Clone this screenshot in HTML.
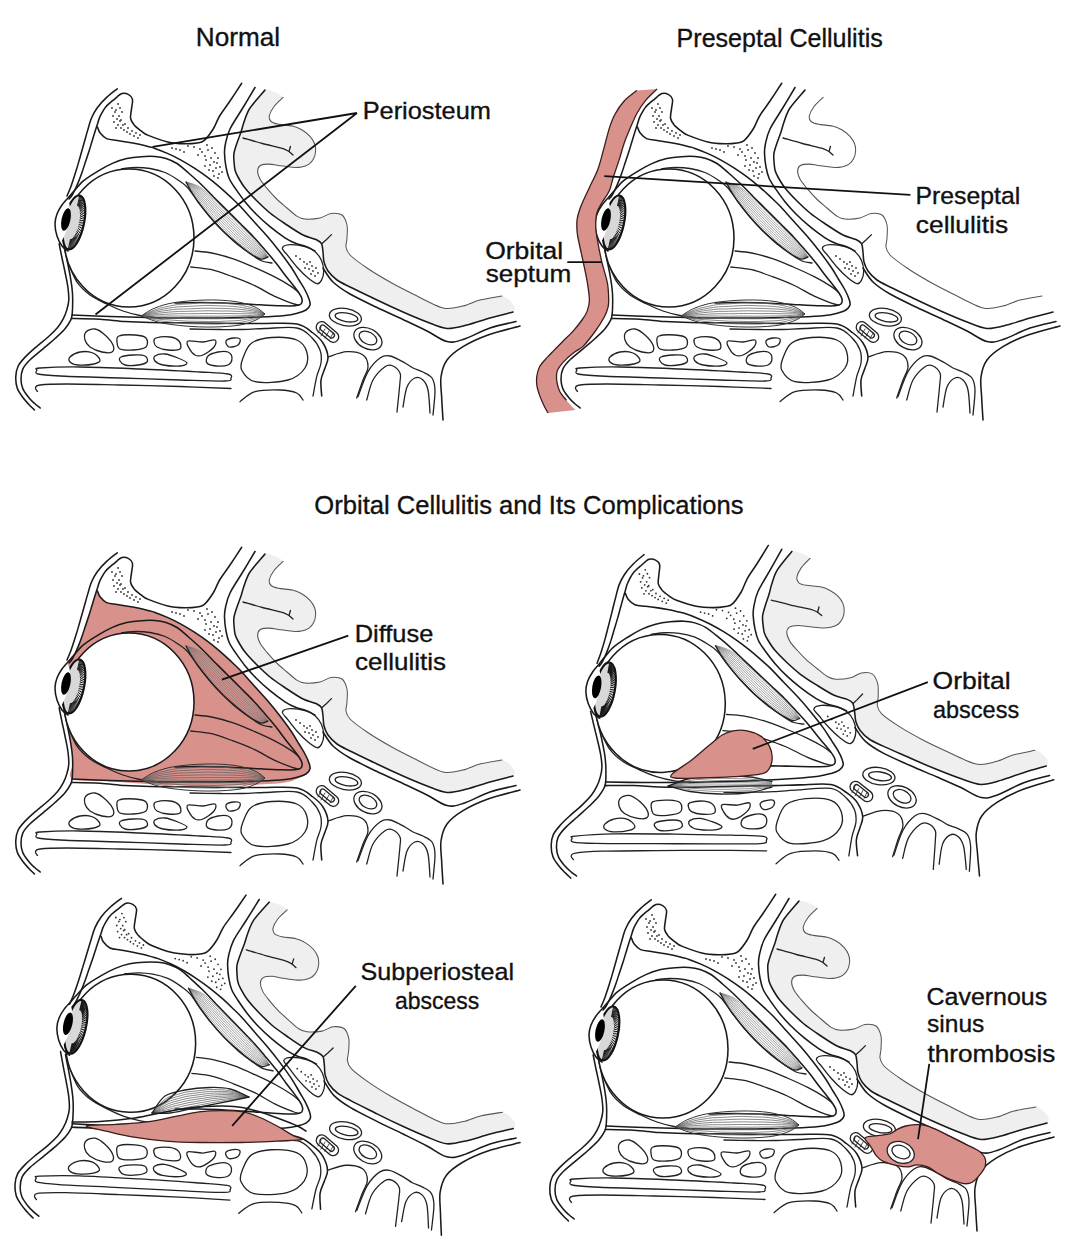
<!DOCTYPE html>
<html><head><meta charset="utf-8"><title>Orbital Cellulitis</title>
<style>
html,body{margin:0;padding:0;background:#fff;}
body{width:1080px;height:1255px;overflow:hidden;position:relative;}
svg{position:absolute;left:0;top:0;}
.k{fill:none;stroke:#1a1a1a;stroke-width:1.55;stroke-linecap:round;stroke-linejoin:round;}
.kt{fill:none;stroke:#222;stroke-width:1.3;stroke-linecap:round;stroke-linejoin:round;}
.g{fill:none;stroke:#555;stroke-width:1.05;stroke-linecap:round;}
.m{fill:none;stroke:#555;stroke-width:0.7;}
.lbl{font-family:"Liberation Sans",sans-serif;fill:#111;stroke:#111;stroke-width:0.35;}
.ptr{fill:none;stroke:#111;stroke-width:1.8;}
</style></head>
<body>
<svg width="1080" height="1255" viewBox="0 0 1080 1255">
<defs>
<g id="base">
<g id="lidout"><path class="k" d="M117.2,88.8C115.4,90.2 109.9,94.2 106.6,97.4C103.2,100.6 99.6,104.5 97.1,108.0C94.5,111.5 92.9,114.7 91.3,118.5C89.7,122.3 88.8,126.6 87.5,130.9C86.2,135.2 85.0,139.8 83.7,144.3C82.4,148.8 81.2,153.2 79.9,157.7C78.6,162.2 77.4,166.5 76.0,171.1C74.6,175.7 72.8,181.2 71.3,185.4C69.8,189.6 67.7,194.2 67.0,196.0" />
<path class="k" d="M59.0,243.0C59.5,245.5 61.0,253.2 62.0,258.0C63.0,262.8 64.0,267.0 65.0,272.0C66.0,277.0 67.4,283.3 68.0,288.0C68.6,292.7 69.0,296.4 68.8,300.0C68.6,303.6 67.9,306.4 66.9,309.6C66.0,312.8 64.7,316.1 63.1,319.1C61.5,322.1 60.0,324.7 57.4,327.7C54.8,330.7 51.3,334.1 47.8,337.3C44.3,340.5 40.0,343.6 36.3,346.8C32.6,350.0 28.8,353.2 25.8,356.4C22.8,359.6 19.9,362.6 18.2,366.0C16.5,369.4 16.0,372.8 15.8,376.5C15.6,380.2 16.0,384.5 17.2,388.0C18.4,391.5 21.0,394.8 22.9,397.5C24.8,400.2 26.8,402.1 28.7,404.2C30.6,406.3 33.4,408.9 34.4,409.9" /></g>
<g id="gfill"><path d="M265.0,90.0C260.6,91.4 252.8,103.7 250.0,108.0C247.2,112.3 245.2,118.8 244.0,122.0C242.8,125.2 241.9,129.2 241.0,132.0C240.1,134.8 237.9,140.2 237.0,143.0C236.1,145.8 234.4,150.7 234.0,153.0C233.6,155.3 233.8,157.7 233.9,160.0C234.0,162.3 234.5,167.7 235.0,170.0C235.5,172.3 236.7,174.6 238.0,177.0C239.3,179.4 242.6,184.9 245.0,188.0C247.4,191.1 252.7,196.7 256.0,200.0C259.3,203.3 265.9,209.7 270.0,213.0C274.1,216.3 282.6,222.1 287.0,225.0C291.4,227.9 299.1,233.1 303.0,235.0C306.9,236.9 313.5,238.4 316.0,239.5C318.5,240.6 320.6,241.9 321.5,243.6C322.4,245.3 322.7,249.5 323.0,252.0C323.3,254.5 323.3,259.5 324.0,262.0C324.7,264.5 326.3,268.6 328.0,271.0C329.7,273.4 334.1,277.9 337.0,280.0C339.9,282.1 344.7,284.3 350.0,287.0C355.3,289.7 369.9,296.7 377.0,300.0C384.1,303.3 396.3,309.1 403.0,312.0C409.7,314.9 421.1,319.8 427.0,322.0C432.9,324.2 441.7,328.1 447.0,328.5C452.3,328.9 461.3,326.4 467.0,325.0C472.7,323.6 483.9,319.7 490.0,318.0C496.1,316.3 509.9,313.9 513.0,312.0C516.1,310.1 514.5,306.1 513.0,304.0C511.5,301.9 506.4,296.5 502.0,296.0C497.6,295.5 485.2,298.7 480.0,300.0C474.8,301.3 467.9,304.9 463.0,306.0C458.1,307.1 449.7,309.6 443.0,308.0C436.3,306.4 420.1,297.5 413.0,294.0C405.9,290.5 396.1,285.5 390.0,282.0C383.9,278.5 372.3,271.6 367.0,268.0C361.7,264.4 352.8,257.8 350.0,255.0C347.2,252.2 346.4,249.3 346.0,247.0C345.6,244.7 346.9,240.9 347.0,238.0C347.1,235.1 347.7,228.1 347.0,225.0C346.3,221.9 344.1,216.5 342.0,215.0C339.9,213.5 333.9,213.1 331.0,213.5C328.1,213.9 323.5,217.3 320.0,218.0C316.5,218.7 308.1,219.3 305.0,219.0C301.9,218.7 299.2,217.6 296.8,216.1C294.4,214.6 289.7,210.3 287.0,208.0C284.3,205.7 279.4,201.6 276.7,199.0C274.0,196.4 269.2,191.0 267.0,188.4C264.8,185.8 261.7,182.1 260.4,179.8C259.1,177.5 257.6,173.1 257.6,171.2C257.6,169.3 258.8,166.4 260.4,165.5C262.0,164.6 266.9,164.1 269.3,164.1C271.7,164.1 275.4,165.1 278.5,165.5C281.6,165.9 289.3,167.1 292.4,167.3C295.5,167.5 299.5,167.3 301.7,166.9C303.9,166.5 307.5,165.2 309.1,164.1C310.7,163.0 312.8,160.2 313.7,158.5C314.6,156.8 315.5,153.1 315.6,151.1C315.7,149.1 315.3,145.7 314.6,143.7C313.9,141.7 311.7,138.2 310.0,136.3C308.3,134.4 304.0,131.2 301.7,129.8C299.4,128.4 295.5,126.8 292.4,126.1C289.3,125.4 281.3,124.9 278.5,124.3C275.7,123.7 272.3,122.6 271.1,121.5C269.9,120.4 268.9,117.9 269.3,115.9C269.7,113.9 272.1,109.2 273.9,106.7C275.7,104.2 284.3,99.6 283.1,97.4C281.9,95.2 269.4,88.6 265.0,90.0Z" fill="#efefef" stroke="none"/></g>
<g id="frame"><path class="g" d="M502.0,296.0C498.7,296.6 485.9,298.5 480.0,300.0C474.1,301.5 468.6,304.8 463.0,306.0C457.4,307.2 450.5,309.8 443.0,308.0C435.5,306.2 420.9,297.9 413.0,294.0C405.1,290.1 396.9,285.9 390.0,282.0C383.1,278.1 373.0,272.1 367.0,268.0C361.0,263.9 353.1,258.1 350.0,255.0C346.9,251.8 346.4,249.6 346.0,247.0C345.6,244.4 346.9,241.3 347.0,238.0C347.1,234.7 347.8,228.4 347.0,225.0C346.2,221.6 344.4,216.7 342.0,215.0C339.6,213.3 334.3,213.1 331.0,213.5C327.7,213.9 323.9,217.2 320.0,218.0C316.1,218.8 308.5,219.3 305.0,219.0C301.5,218.7 299.5,217.8 296.8,216.1C294.1,214.4 290.0,210.6 287.0,208.0C284.0,205.4 279.7,201.9 276.7,199.0C273.7,196.1 269.4,191.3 267.0,188.4C264.6,185.5 261.8,182.4 260.4,179.8C259.0,177.2 257.6,173.3 257.6,171.2C257.6,169.1 258.6,166.6 260.4,165.5C262.2,164.4 266.6,164.1 269.3,164.1C272.0,164.1 275.0,165.0 278.5,165.5C282.0,166.0 288.9,167.1 292.4,167.3C295.9,167.5 299.2,167.4 301.7,166.9C304.2,166.4 307.3,165.4 309.1,164.1C310.9,162.8 312.7,160.4 313.7,158.5C314.7,156.6 315.5,153.3 315.6,151.1C315.7,148.9 315.4,145.9 314.6,143.7C313.8,141.5 311.9,138.4 310.0,136.3C308.1,134.2 304.3,131.3 301.7,129.8C299.1,128.3 295.9,126.9 292.4,126.1C288.9,125.3 281.7,125.0 278.5,124.3C275.3,123.6 272.5,122.8 271.1,121.5C269.7,120.2 268.9,118.1 269.3,115.9C269.7,113.7 271.8,109.5 273.9,106.7C276.0,103.9 281.7,98.8 283.1,97.4" />
<path class="k" d="M265.0,90.0C262.8,92.7 253.2,103.2 250.0,108.0C246.8,112.8 245.3,118.4 244.0,122.0C242.7,125.6 242.1,128.8 241.0,132.0C239.9,135.2 238.1,139.8 237.0,143.0C235.9,146.2 234.5,150.4 234.0,153.0C233.5,155.6 233.8,157.4 233.9,160.0C234.1,162.6 234.4,167.4 235.0,170.0C235.6,172.6 236.5,174.3 238.0,177.0C239.5,179.7 242.3,184.6 245.0,188.0C247.7,191.4 252.2,196.2 256.0,200.0C259.8,203.8 265.4,209.2 270.0,213.0C274.6,216.8 282.1,221.7 287.0,225.0C291.9,228.3 298.6,232.8 303.0,235.0C307.4,237.2 313.2,238.2 316.0,239.5C318.8,240.8 320.4,241.7 321.5,243.6C322.6,245.5 322.6,249.2 323.0,252.0C323.4,254.8 323.2,259.1 324.0,262.0C324.8,264.9 326.1,268.3 328.0,271.0C329.9,273.7 333.7,277.6 337.0,280.0C340.3,282.4 344.0,284.0 350.0,287.0C356.0,290.0 369.1,296.2 377.0,300.0C384.9,303.8 395.5,308.7 403.0,312.0C410.5,315.3 420.4,319.5 427.0,322.0C433.6,324.5 441.0,328.1 447.0,328.5C453.0,328.9 460.6,326.6 467.0,325.0C473.4,323.4 483.1,319.9 490.0,318.0C496.9,316.1 509.6,312.9 513.0,312.0" />
<path class="kt" d="M243.0,138.0C246.2,138.9 256.0,141.8 262.4,143.5C268.8,145.2 277.1,146.9 281.5,148.2C285.9,149.5 287.8,150.9 289.0,151.5" />
<path class="kt" d="M290.5,146.3L289.0,151.5L293.0,155.0" />
<path class="kt" d="M331.5,234.6L326.0,240.0L322.0,243.6" />
<path class="k" d="M255.0,87.5C252.8,91.2 245.7,103.1 241.5,110.0C237.3,116.9 232.7,123.4 230.0,129.0C227.3,134.6 226.4,139.5 225.5,143.5C224.6,147.5 224.4,149.1 224.5,153.0C224.6,156.9 225.2,162.8 226.0,167.0C226.8,171.2 227.5,174.5 229.0,178.0C230.5,181.5 232.3,184.1 235.0,188.0C237.7,191.9 241.5,197.4 245.0,201.7C248.5,206.0 251.8,209.8 256.0,214.0C260.2,218.2 265.2,222.7 270.0,226.7C274.8,230.7 280.7,235.0 285.0,237.8C289.3,240.6 292.5,242.1 296.0,243.5C299.5,244.9 302.8,245.2 306.0,246.5C309.2,247.8 313.5,250.2 315.0,251.0" />
<path class="kt" d="M282.4,248.0C282.8,246.2 286.3,244.9 290.2,244.7C294.1,244.5 301.7,245.8 305.8,246.9C309.9,248.0 312.2,249.2 314.8,251.4C317.4,253.6 319.9,257.0 321.4,260.3C322.9,263.6 323.7,268.0 323.7,271.4C323.7,274.8 322.5,278.3 321.4,280.4C320.3,282.4 319.2,284.1 317.0,283.7C314.8,283.3 311.5,280.9 308.1,278.1C304.8,275.3 300.2,270.7 296.9,267.0C293.5,263.3 290.4,259.0 288.0,255.8C285.6,252.6 282.0,249.8 282.4,248.0Z" />
<g fill="#333"><circle cx="296" cy="256" r="0.9"/><circle cx="300" cy="259" r="0.9"/><circle cx="304" cy="262" r="0.9"/><circle cx="307" cy="264" r="0.9"/><circle cx="310" cy="262" r="0.9"/><circle cx="312" cy="266" r="0.9"/><circle cx="309" cy="269" r="0.9"/><circle cx="313" cy="271" r="0.9"/><circle cx="316" cy="268" r="0.9"/><circle cx="311" cy="274" r="0.9"/><circle cx="315" cy="276" r="0.9"/><circle cx="305" cy="268" r="0.9"/><circle cx="318" cy="273" r="0.9"/></g>
<path class="k" d="M323.0,268.0C324.7,270.3 328.5,277.7 333.0,282.0C337.5,286.3 342.7,289.8 350.0,294.0C357.3,298.2 368.2,303.2 377.0,307.5C385.8,311.8 394.7,315.6 403.0,319.5C411.3,323.4 419.7,327.3 427.0,331.0C434.3,334.7 441.0,340.1 447.0,341.5C453.0,342.9 455.8,341.8 463.0,339.5C470.2,337.2 481.2,331.0 490.0,328.0C498.8,325.0 511.7,322.6 516.0,321.5" />
<path class="k" d="M520.0,326.0C514.7,327.5 497.5,331.6 488.0,335.0C478.5,338.4 469.8,342.5 463.0,346.7C456.2,350.9 450.7,354.9 447.0,360.0C443.3,365.1 441.9,370.7 441.0,377.0C440.1,383.3 441.4,390.8 441.7,398.0C442.0,405.2 442.8,416.3 443.0,420.0" />
<path class="k" d="M69.0,199.0C69.5,198.3 70.9,197.3 72.2,195.0C73.5,192.7 75.4,189.1 77.0,185.4C78.6,181.7 80.4,177.0 81.8,173.0C83.2,169.0 84.3,165.3 85.6,161.5C86.9,157.7 88.3,153.5 89.4,150.0C90.5,146.5 91.3,143.7 92.3,140.5C93.3,137.3 94.3,133.8 95.2,131.0C96.1,128.2 96.7,126.4 97.5,124.0C98.3,121.6 98.6,119.4 100.0,116.6C101.4,113.8 103.3,109.9 105.7,107.0C108.1,104.1 111.6,101.5 114.3,99.3C117.0,97.1 119.6,94.4 122.0,93.6C124.4,92.8 126.8,93.6 128.6,94.6C130.3,95.5 132.0,96.9 132.5,99.3C133.0,101.7 131.8,105.7 131.5,108.9C131.2,112.1 130.1,115.8 130.6,118.5C131.1,121.2 132.7,123.1 134.4,125.2C136.2,127.3 138.8,129.2 141.1,130.9C143.4,132.6 143.9,133.6 148.3,135.4C152.8,137.2 161.7,140.5 167.8,141.9C173.9,143.3 180.1,143.6 185.0,143.8C189.9,144.0 193.8,143.5 197.0,143.0C200.2,142.5 201.4,142.9 204.1,140.6C206.8,138.3 210.6,133.1 213.2,129.0C215.8,124.9 216.8,120.7 219.6,116.0C222.4,111.3 226.3,106.5 230.0,101.0C233.7,95.5 239.8,86.2 241.7,83.3" />
<g fill="#333"><circle cx="112" cy="108" r="0.9"/><circle cx="115" cy="112" r="0.9"/><circle cx="113" cy="116" r="0.9"/><circle cx="117" cy="119" r="0.9"/><circle cx="114" cy="122" r="0.9"/><circle cx="118" cy="125" r="0.9"/><circle cx="121" cy="128" r="0.9"/><circle cx="124" cy="130" r="0.9"/><circle cx="127" cy="132" r="0.9"/><circle cx="116" cy="128" r="0.9"/><circle cx="120" cy="121" r="0.9"/><circle cx="123" cy="125" r="0.9"/><circle cx="130" cy="134" r="0.9"/><circle cx="134" cy="136" r="0.9"/><circle cx="138" cy="138" r="0.9"/><circle cx="202" cy="152" r="0.9"/><circle cx="205" cy="156" r="0.9"/><circle cx="208" cy="150" r="0.9"/><circle cx="211" cy="158" r="0.9"/><circle cx="214" cy="162" r="0.9"/><circle cx="210" cy="165" r="0.9"/><circle cx="216" cy="168" r="0.9"/><circle cx="213" cy="171" r="0.9"/><circle cx="219" cy="174" r="0.9"/><circle cx="206" cy="160" r="0.9"/><circle cx="200" cy="149" r="0.9"/><circle cx="194" cy="147" r="0.9"/><circle cx="188" cy="146" r="0.9"/><circle cx="207" cy="145" r="0.9"/><circle cx="212" cy="148" r="0.9"/><circle cx="215" cy="153" r="0.9"/><circle cx="218" cy="158" r="0.9"/><circle cx="217" cy="163" r="0.9"/><circle cx="220" cy="167" r="0.9"/><circle cx="222" cy="172" r="0.9"/><circle cx="218" cy="178" r="0.9"/><circle cx="214" cy="176" r="0.9"/><circle cx="209" cy="170" r="0.9"/><circle cx="205" cy="166" r="0.9"/><circle cx="180" cy="150" r="0.9"/><circle cx="176" cy="149" r="0.9"/><circle cx="172" cy="148" r="0.9"/><circle cx="184" cy="152" r="0.9"/><circle cx="198" cy="155" r="0.9"/><circle cx="118" cy="104" r="0.9"/><circle cx="120" cy="108" r="0.9"/><circle cx="116" cy="110" r="0.9"/><circle cx="122" cy="112" r="0.9"/><circle cx="119" cy="116" r="0.9"/><circle cx="121" cy="120" r="0.9"/><circle cx="125" cy="124" r="0.9"/><circle cx="128" cy="128" r="0.9"/><circle cx="132" cy="131" r="0.9"/><circle cx="136" cy="133" r="0.9"/><circle cx="140" cy="135" r="0.9"/></g>
<path class="k" d="M97.5,127.0C97.9,128.0 98.5,130.9 100.0,132.8C101.5,134.7 103.7,137.3 106.6,138.6C109.5,139.9 113.4,139.9 117.2,140.5C121.0,141.1 125.9,141.8 129.6,142.4C133.3,143.0 136.1,143.6 139.2,144.3C142.3,145.0 145.4,145.8 148.0,146.5C150.6,147.2 151.7,147.2 155.0,148.4C158.3,149.6 163.7,151.7 168.0,153.6C172.3,155.5 176.7,157.7 181.0,160.1C185.3,162.5 189.7,165.1 194.0,167.9C198.3,170.7 202.7,173.7 207.0,176.9C211.3,180.1 216.2,184.1 220.0,187.3C223.8,190.6 226.7,193.3 230.0,196.4C233.3,199.5 236.2,202.0 240.0,206.0C243.8,210.0 248.5,215.5 253.0,220.5C257.5,225.5 262.5,230.8 267.0,236.0C271.5,241.2 276.0,246.8 280.0,252.0C284.0,257.2 287.8,262.3 291.0,267.0C294.2,271.7 296.7,276.2 299.0,280.0C301.3,283.8 303.3,286.8 305.0,290.0C306.7,293.2 308.2,296.5 309.0,299.0C309.8,301.5 310.5,303.2 310.0,305.0C309.5,306.8 308.0,308.7 306.0,310.0C304.0,311.3 301.5,312.1 298.0,313.0C294.5,313.9 291.3,314.8 285.0,315.5C278.7,316.2 270.5,316.6 260.0,317.0C249.5,317.4 234.5,317.8 222.0,318.0C209.5,318.2 197.5,318.1 185.0,318.0C172.5,317.9 159.5,317.8 147.0,317.5C134.5,317.2 122.5,316.9 110.0,316.5C97.5,316.1 78.3,315.2 72.0,315.0" />
<path class="k" d="M71.5,318.5C76.2,318.6 91.1,318.8 100.0,319.3C108.9,319.8 116.7,321.0 125.0,321.5C133.3,322.0 137.5,322.2 150.0,322.5C162.5,322.8 185.0,322.8 200.0,323.0C215.0,323.2 229.2,323.4 240.0,323.5C250.8,323.6 255.5,323.4 265.0,323.5C274.5,323.6 289.0,322.4 297.0,324.0C305.0,325.6 308.7,329.8 313.0,333.0C317.3,336.2 320.5,339.0 323.0,343.0C325.5,347.0 327.7,352.8 328.0,357.0C328.3,361.2 326.2,364.2 325.0,368.0C323.8,371.8 321.6,375.3 321.0,380.0C320.4,384.7 321.6,393.3 321.7,396.0" />
<path class="kt" d="M190.0,329.0C195.0,329.1 211.7,329.4 220.0,329.5C228.3,329.6 232.5,329.7 240.0,329.5C247.5,329.3 255.5,328.8 265.0,328.5C274.5,328.2 289.2,326.5 297.0,328.0C304.8,329.5 307.9,333.8 311.7,337.5C315.5,341.2 318.4,345.8 320.0,350.0C321.6,354.2 321.6,358.6 321.0,363.0C320.4,367.4 318.0,371.2 316.7,376.7C315.4,382.2 313.6,392.8 313.0,396.0" />
<path class="k" d="M64.0,246.0C64.5,248.3 66.0,255.2 67.0,260.0C68.0,264.8 69.2,270.3 70.0,275.0C70.8,279.7 71.5,283.8 72.0,288.0C72.5,292.2 72.7,295.6 72.7,300.0C72.7,304.4 72.5,310.9 72.2,314.3C71.9,317.7 71.9,317.7 70.7,320.1C69.5,322.5 67.5,325.7 65.0,328.7C62.5,331.7 59.1,334.8 55.4,338.2C51.7,341.6 47.1,345.3 43.0,348.8C38.9,352.3 34.0,356.0 30.6,359.3C27.2,362.6 24.5,365.5 22.9,368.8C21.3,372.1 21.0,376.0 21.0,379.3C21.0,382.6 21.6,385.9 22.9,388.9C24.2,391.9 26.8,395.1 28.7,397.5C30.6,399.9 32.5,401.6 34.4,403.3C36.3,405.1 39.2,407.2 40.2,408.0" />
<path class="kt" d="M86.0,332.0C87.7,330.2 91.8,328.5 95.0,329.0C98.2,329.5 102.0,332.3 105.0,335.0C108.0,337.7 111.8,342.2 113.0,345.0C114.2,347.8 113.8,350.8 112.0,352.0C110.2,353.2 105.7,352.8 102.0,352.0C98.3,351.2 92.8,349.0 90.0,347.0C87.2,345.0 85.7,342.5 85.0,340.0C84.3,337.5 84.3,333.8 86.0,332.0Z" />
<path class="kt" d="M119.0,336.0C122.0,334.8 130.5,334.7 135.0,335.0C139.5,335.3 144.2,336.0 146.0,338.0C147.8,340.0 148.2,345.0 146.0,347.0C143.8,349.0 137.3,349.7 133.0,350.0C128.7,350.3 122.7,350.3 120.0,349.0C117.3,347.7 117.2,344.2 117.0,342.0C116.8,339.8 116.0,337.2 119.0,336.0Z" />
<path class="kt" d="M156.0,338.0C158.7,337.2 166.2,336.5 170.0,337.0C173.8,337.5 177.3,339.0 179.0,341.0C180.7,343.0 181.8,347.5 180.0,349.0C178.2,350.5 171.8,350.3 168.0,350.0C164.2,349.7 159.3,348.3 157.0,347.0C154.7,345.7 154.2,343.5 154.0,342.0C153.8,340.5 153.3,338.8 156.0,338.0Z" />
<path class="kt" d="M188.0,341.0C190.3,340.0 198.5,342.2 203.0,342.0C207.5,341.8 213.2,339.2 215.0,340.0C216.8,340.8 216.0,344.5 214.0,347.0C212.0,349.5 206.2,353.7 203.0,355.0C199.8,356.3 197.3,356.2 195.0,355.0C192.7,353.8 190.2,350.3 189.0,348.0C187.8,345.7 185.7,342.0 188.0,341.0Z" />
<path class="kt" d="M226.0,341.0C226.7,339.5 230.7,338.3 233.0,338.0C235.3,337.7 239.2,337.8 240.0,339.0C240.8,340.2 239.8,343.7 238.0,345.0C236.2,346.3 231.0,347.7 229.0,347.0C227.0,346.3 225.3,342.5 226.0,341.0Z" />
<path class="kt" d="M70.0,357.0C71.7,355.3 76.2,352.7 80.0,352.0C83.8,351.3 89.7,351.7 93.0,353.0C96.3,354.3 99.8,358.2 100.0,360.0C100.2,361.8 97.7,363.2 94.0,364.0C90.3,364.8 82.0,365.3 78.0,365.0C74.0,364.7 71.3,363.3 70.0,362.0C68.7,360.7 68.3,358.7 70.0,357.0Z" />
<path class="kt" d="M121.0,357.0C123.2,356.0 129.0,355.2 133.0,355.0C137.0,354.8 142.7,354.8 145.0,356.0C147.3,357.2 148.2,360.5 147.0,362.0C145.8,363.5 141.7,364.5 138.0,365.0C134.3,365.5 128.0,365.7 125.0,365.0C122.0,364.3 120.7,362.3 120.0,361.0C119.3,359.7 118.8,358.0 121.0,357.0Z" />
<path class="kt" d="M155.0,356.0C156.7,354.8 161.2,353.7 165.0,354.0C168.8,354.3 174.3,356.5 178.0,358.0C181.7,359.5 186.7,361.7 187.0,363.0C187.3,364.3 184.0,365.7 180.0,366.0C176.0,366.3 167.2,365.8 163.0,365.0C158.8,364.2 156.3,362.5 155.0,361.0C153.7,359.5 153.3,357.2 155.0,356.0Z" />
<path class="kt" d="M208.0,356.0C209.8,354.2 214.7,352.7 218.0,352.0C221.3,351.3 225.7,351.0 228.0,352.0C230.3,353.0 232.0,355.8 232.0,358.0C232.0,360.2 230.7,363.7 228.0,365.0C225.3,366.3 219.5,366.3 216.0,366.0C212.5,365.7 208.3,364.7 207.0,363.0C205.7,361.3 206.2,357.8 208.0,356.0Z" />
<path class="kt" d="M40.0,368.0C47.2,367.5 63.3,366.8 80.0,367.0C96.7,367.2 120.0,368.2 140.0,369.0C160.0,369.8 185.3,371.2 200.0,372.0C214.7,372.8 222.8,373.0 228.0,374.0C233.2,375.0 231.5,376.8 231.0,378.0C230.5,379.2 233.5,380.7 225.0,381.0C216.5,381.3 197.5,380.5 180.0,380.0C162.5,379.5 140.0,378.7 120.0,378.0C100.0,377.3 73.7,376.7 60.0,376.0C46.3,375.3 41.8,375.0 38.0,374.0C34.2,373.0 36.7,371.0 37.0,370.0C37.3,369.0 32.8,368.5 40.0,368.0Z" />
<path class="kt" d="M37.5,391.5C37.2,390.9 35.1,389.1 35.5,388.0C35.9,386.9 34.8,385.7 40.0,385.0C45.2,384.3 53.7,384.0 67.0,384.0C80.3,384.0 101.2,384.6 120.0,385.0C138.8,385.4 161.5,385.9 180.0,386.5C198.5,387.1 222.5,388.2 231.0,388.5" />
<path class="kt" d="M251.7,343.0C256.5,339.6 264.2,338.0 271.7,337.5C279.2,337.0 290.9,337.6 296.7,340.0C302.5,342.4 305.3,347.0 306.7,351.7C308.1,356.4 308.1,363.3 305.0,368.0C301.9,372.7 296.3,377.7 288.0,380.0C279.7,382.3 262.7,383.4 255.0,381.7C247.3,380.0 243.7,373.9 241.7,370.0C239.7,366.1 241.3,362.5 243.0,358.0C244.7,353.5 246.9,346.4 251.7,343.0Z" />
<path class="kt" d="M240.0,401.7C242.5,400.0 248.3,393.6 255.0,391.7C261.7,389.8 273.1,389.8 280.0,390.0C286.9,390.2 292.9,391.3 296.7,393.0C300.5,394.7 301.9,398.8 303.0,400.0" />
<path class="kt" d="M328.0,357.0C331.1,356.1 340.9,352.0 346.7,351.7C352.5,351.4 359.4,352.5 363.0,355.0C366.6,357.5 368.0,362.5 368.0,366.7C368.0,370.9 364.9,374.8 363.0,380.0C361.1,385.2 357.8,395.0 356.7,398.0" />
<path class="kt" d="M358.0,396.7C359.7,392.5 364.3,378.1 368.0,371.7C371.7,365.2 376.3,360.6 380.0,358.0C383.7,355.4 385.8,355.2 390.0,356.0C394.2,356.8 401.2,361.0 405.0,363.0C408.8,365.0 410.0,366.5 413.0,368.0C416.0,369.5 419.8,370.3 423.0,372.0C426.2,373.7 430.0,375.0 432.0,378.0C434.0,381.0 434.8,383.8 435.0,390.0C435.2,396.2 433.3,410.8 433.0,415.0" />
<path class="kt" d="M366.7,400.0C367.8,396.7 369.9,385.6 373.0,380.0C376.1,374.4 381.7,369.0 385.0,366.7C388.3,364.4 390.5,364.9 393.0,366.0C395.5,367.1 398.8,370.3 400.0,373.0C401.2,375.7 400.5,375.5 400.0,382.0C399.5,388.5 397.5,407.0 397.0,412.0" />
<path class="kt" d="M403.0,407.0C403.7,403.7 405.0,391.8 407.0,387.0C409.0,382.2 412.3,379.2 415.0,378.0C417.7,376.8 420.8,378.0 423.0,380.0C425.2,382.0 426.8,384.5 428.0,390.0C429.2,395.5 429.7,409.2 430.0,413.0" />
<g class="kt"><ellipse cx="345.4" cy="317.1" rx="16.2" ry="8.6" transform="rotate(10 345.4 317.1)"/><ellipse cx="346.5" cy="317.3" rx="11.5" ry="4.3" transform="rotate(10 346.5 317.3)"/><rect x="315" y="326" width="26" height="11" rx="5.5" transform="rotate(40 327 331)"/><rect x="319" y="328.5" width="17" height="5.5" rx="2.7" transform="rotate(40 327 331)"/><path d="M321,327L318,333M325,329L321,336M329,331L325,338M333,333L330,339" stroke-width="0.8"/><ellipse cx="367.9" cy="338.6" rx="15" ry="10" transform="rotate(28 367.9 338.6)"/><ellipse cx="368" cy="338" rx="9.5" ry="6" transform="rotate(28 368 338)"/></g></g>
<g id="orbit"><path class="k" d="M69.0,197.0C69.8,196.0 71.5,193.7 74.0,191.0C76.5,188.3 79.7,183.9 83.7,180.6C87.7,177.3 93.2,174.0 98.0,171.1C102.8,168.2 107.6,165.5 112.4,163.4C117.2,161.3 121.9,159.7 126.7,158.6C131.5,157.5 136.4,157.0 141.1,156.7C145.8,156.3 150.8,156.2 155.0,156.5C159.2,156.8 162.3,157.3 166.0,158.5C169.7,159.7 173.5,161.3 177.0,163.5C180.5,165.7 183.2,168.4 187.0,171.7C190.8,175.0 195.6,179.1 200.0,183.3C204.4,187.5 208.9,192.2 213.3,196.7C217.8,201.1 222.2,205.6 226.7,210.0C231.1,214.4 235.6,218.9 240.0,223.3C244.4,227.8 249.1,232.2 253.3,236.7C257.5,241.1 261.2,245.6 265.0,250.0C268.8,254.4 272.7,258.8 276.0,263.0C279.3,267.2 282.2,271.3 285.0,275.0C287.8,278.7 290.7,282.0 293.0,285.0C295.3,288.0 297.5,290.7 299.0,293.0C300.5,295.3 301.7,297.2 302.0,299.0C302.3,300.8 302.2,302.9 301.0,304.0C299.8,305.1 298.3,305.5 295.0,305.8C291.7,306.1 288.0,306.0 281.0,305.8C274.0,305.6 262.3,304.9 253.0,304.4C243.7,303.9 233.8,303.3 225.0,303.0C216.2,302.7 208.3,302.5 200.0,302.5C191.7,302.5 179.2,302.9 175.0,303.0" />
<path class="kt" d="M121.9,168.6C124.3,168.4 131.6,167.5 136.3,167.5C141.0,167.5 145.2,167.7 150.0,168.5C154.8,169.3 160.3,170.6 165.0,172.5C169.7,174.4 174.2,177.4 178.0,180.0C181.8,182.6 184.7,184.3 188.0,188.0C191.3,191.7 194.3,197.2 198.0,202.0C201.7,206.8 205.8,212.2 210.0,217.0C214.2,221.8 218.3,226.5 223.0,231.0C227.7,235.5 233.2,240.0 238.0,244.0C242.8,248.0 248.0,252.2 252.0,255.0C256.0,257.8 258.7,259.7 262.0,261.0C265.3,262.3 270.3,262.7 272.0,263.0" />
<path d="M186.0,182.0C187.4,182.4 191.5,183.4 194.1,184.4C196.8,185.4 199.4,186.5 201.7,188.1C204.1,189.7 206.1,192.0 208.2,193.9C210.4,195.9 212.6,197.9 214.7,199.9C216.8,201.9 218.8,204.0 220.9,206.0C223.0,208.1 225.1,210.1 227.2,212.2C229.2,214.2 231.3,216.3 233.4,218.4C235.4,220.5 237.5,222.5 239.6,224.6C241.6,226.7 243.6,228.8 245.7,230.9C247.8,233.0 249.9,235.0 251.9,237.1C253.9,239.2 255.8,241.4 257.7,243.6C259.6,245.8 261.6,248.0 263.3,250.2C265.0,252.5 267.2,255.9 268.0,257.0M186.0,182.0C187.3,182.5 191.2,183.8 193.7,185.0C196.2,186.2 198.7,187.4 201.0,189.1C203.3,190.8 205.2,193.1 207.4,195.1C209.5,197.1 211.6,199.1 213.7,201.2C215.8,203.2 217.8,205.4 219.9,207.4C221.9,209.5 224.0,211.6 226.1,213.6C228.2,215.7 230.2,217.8 232.3,219.9C234.4,222.0 236.5,224.0 238.6,226.1C240.6,228.1 242.6,230.3 244.7,232.3C246.8,234.4 249.0,236.3 251.0,238.4C253.1,240.5 255.0,242.7 257.0,244.8C259.0,246.9 261.1,249.1 262.9,251.1C264.7,253.2 267.1,256.0 268.0,257.0M186.0,182.0C187.2,182.6 190.9,184.3 193.3,185.6C195.7,187.0 198.1,188.4 200.3,190.1C202.5,191.9 204.4,194.2 206.5,196.3C208.6,198.4 210.7,200.4 212.7,202.5C214.8,204.6 216.8,206.7 218.8,208.8C220.9,210.9 223.0,213.0 225.0,215.1C227.1,217.2 229.1,219.3 231.2,221.4C233.3,223.4 235.4,225.5 237.5,227.5C239.6,229.6 241.6,231.7 243.7,233.8C245.9,235.8 248.1,237.7 250.2,239.8C252.3,241.8 254.3,243.9 256.3,246.0C258.4,248.0 260.5,250.2 262.5,252.0C264.4,253.9 267.1,256.2 268.0,257.0M186.0,182.0C187.1,182.7 190.6,184.7 192.9,186.2C195.1,187.8 197.4,189.3 199.6,191.2C201.7,193.1 203.6,195.4 205.6,197.5C207.6,199.6 209.7,201.7 211.7,203.8C213.8,205.9 215.7,208.1 217.8,210.2C219.8,212.4 221.9,214.4 224.0,216.5C226.1,218.6 228.1,220.8 230.2,222.8C232.2,224.9 234.4,226.9 236.5,229.0C238.6,231.1 240.6,233.2 242.8,235.2C244.9,237.2 247.2,239.1 249.3,241.1C251.5,243.1 253.5,245.2 255.6,247.2C257.7,249.1 260.0,251.3 262.0,252.9C264.1,254.5 267.0,256.3 268.0,257.0M186.0,182.0C187.1,182.8 190.3,185.1 192.5,186.8C194.6,188.5 196.8,190.2 198.8,192.2C200.9,194.2 202.7,196.5 204.7,198.7C206.7,200.9 208.7,203.0 210.8,205.1C212.8,207.3 214.7,209.5 216.7,211.6C218.8,213.8 220.9,215.9 222.9,218.0C225.0,220.1 227.0,222.2 229.1,224.3C231.2,226.4 233.4,228.4 235.5,230.5C237.6,232.5 239.6,234.7 241.8,236.7C244.0,238.7 246.3,240.5 248.5,242.4C250.7,244.4 252.7,246.5 254.9,248.4C257.1,250.2 259.4,252.4 261.6,253.8C263.8,255.2 266.9,256.5 268.0,257.0M186.0,182.0C187.0,182.9 190.0,185.6 192.0,187.4C194.1,189.3 196.1,191.1 198.1,193.2C200.1,195.3 201.9,197.7 203.8,199.9C205.8,202.1 207.8,204.3 209.8,206.5C211.7,208.6 213.7,210.9 215.7,213.0C217.7,215.2 219.8,217.3 221.9,219.4C223.9,221.5 225.9,223.7 228.0,225.8C230.1,227.9 232.3,229.9 234.4,231.9C236.6,234.0 238.6,236.1 240.8,238.1C243.0,240.1 245.4,241.9 247.6,243.8C249.8,245.7 252.0,247.7 254.2,249.5C256.5,251.4 258.9,253.4 261.2,254.7C263.5,255.9 266.9,256.6 268.0,257.0M186.0,182.0C186.9,183.0 189.7,186.0 191.6,188.0C193.5,190.1 195.5,192.1 197.4,194.3C199.3,196.4 201.1,198.8 203.0,201.1C204.9,203.3 206.8,205.5 208.8,207.8C210.7,210.0 212.7,212.3 214.7,214.4C216.7,216.6 218.8,218.7 220.8,220.9C222.9,223.0 224.9,225.2 227.0,227.3C229.1,229.4 231.3,231.4 233.4,233.4C235.6,235.5 237.6,237.6 239.8,239.6C242.0,241.5 244.5,243.2 246.7,245.1C249.0,247.0 251.2,249.0 253.6,250.7C255.9,252.5 258.4,254.5 260.8,255.6C263.2,256.6 266.8,256.8 268.0,257.0M186.0,182.0C186.9,183.1 189.4,186.4 191.2,188.6C193.0,190.8 194.9,193.0 196.7,195.3C198.5,197.6 200.2,200.0 202.1,202.3C203.9,204.6 205.9,206.8 207.8,209.1C209.7,211.3 211.6,213.6 213.6,215.8C215.6,218.0 217.7,220.2 219.7,222.3C221.8,224.5 223.8,226.7 225.9,228.8C228.0,230.8 230.2,232.8 232.4,234.9C234.5,236.9 236.6,239.1 238.8,241.0C241.1,242.9 243.5,244.6 245.9,246.4C248.2,248.3 250.5,250.2 252.9,251.9C255.3,253.6 257.8,255.6 260.4,256.5C262.9,257.3 266.7,256.9 268.0,257.0M186.0,182.0C186.8,183.2 189.1,186.8 190.8,189.2C192.4,191.6 194.2,193.9 195.9,196.3C197.7,198.7 199.4,201.1 201.2,203.5C203.0,205.8 204.9,208.1 206.8,210.4C208.7,212.7 210.6,215.0 212.6,217.2C214.5,219.5 216.6,221.6 218.7,223.8C220.7,225.9 222.7,228.1 224.8,230.2C226.9,232.3 229.2,234.3 231.4,236.3C233.5,238.4 235.6,240.5 237.9,242.5C240.1,244.4 242.6,246.0 245.0,247.8C247.4,249.5 249.7,251.5 252.2,253.1C254.7,254.7 257.3,256.7 259.9,257.4C262.6,258.0 266.7,257.1 268.0,257.0" fill="none" stroke="#747474" stroke-width="0.65"/>
<path class="kt" d="M186.0,182.0C186.8,183.5 188.8,187.5 191.0,191.0C193.2,194.5 195.8,198.7 199.0,203.0C202.2,207.3 206.0,212.3 210.0,217.0C214.0,221.7 218.5,226.5 223.0,231.0C227.5,235.5 232.3,240.2 237.0,244.0C241.7,247.8 247.0,251.5 251.0,254.0C255.0,256.5 258.2,258.5 261.0,259.0C263.8,259.5 266.8,257.3 268.0,257.0" />
<path class="kt" d="M195.0,251.0C197.8,251.3 205.4,251.7 211.7,253.0C217.9,254.3 225.6,256.3 232.5,258.6C239.4,260.9 246.4,264.0 253.3,267.0C260.2,270.0 267.9,273.5 274.2,276.7C280.5,279.9 287.0,283.8 291.0,286.4C295.0,288.9 296.8,291.1 298.0,292.0" />
<path class="kt" d="M190.8,267.0C194.3,267.4 204.8,268.1 211.7,269.7C218.6,271.3 225.6,274.1 232.5,276.7C239.4,279.2 246.4,281.8 253.3,285.0C260.2,288.2 267.7,293.0 274.2,296.1C280.7,299.2 288.1,301.9 292.2,303.4C296.3,304.9 297.9,304.7 299.0,305.0" />
<path class="kt" d="M68.0,262.0C69.5,265.3 73.0,276.2 76.7,281.7C80.4,287.2 85.0,291.3 90.0,295.0C95.0,298.7 101.2,301.3 106.7,304.0C112.2,306.7 117.5,309.1 123.0,311.0C128.6,312.9 133.8,314.3 140.0,315.5C146.2,316.7 156.7,317.6 160.0,318.0" />
<ellipse cx="129" cy="238" rx="65" ry="69" class="k" style="fill:#fff"/>
<ellipse cx="74" cy="222.5" rx="10" ry="27.5" transform="rotate(12 74 222.5)" fill="#d8d8d8" stroke="#111" stroke-width="2.2"/>
<path d="M77.5,205.9L79.6,196.1M78.0,206.1L80.6,196.5M78.5,206.5L81.6,197.2M78.9,207.1L82.4,198.1M79.3,207.8L83.2,199.4M79.5,208.8L83.9,200.9M79.8,209.9L84.4,202.7M79.9,211.1L84.8,204.8M80.0,212.5L85.1,207.0M80.0,214.0L85.2,209.4M80.0,215.6L85.3,212.0M79.9,217.3L85.2,214.7M79.7,219.1L84.9,217.4M79.4,220.8L84.6,220.3M79.1,222.6L84.1,223.1M78.7,224.4L83.5,226.0M78.3,226.2L82.7,228.8M77.8,228.0L81.9,231.6M77.2,229.6L81.0,234.2M76.7,231.2L80.0,236.7M76.1,232.7L78.9,239.0M75.4,234.1L77.8,241.2M74.8,235.3L76.7,243.1M74.1,236.4L75.5,244.8M73.5,237.3L74.2,246.2M72.8,238.0L73.0,247.3M72.2,238.6L71.8,248.2M71.6,239.0L70.6,248.7M71.0,239.1L69.5,249.0M70.5,239.1L68.4,248.9" stroke="#1a1a1a" stroke-width="1" fill="none"/>
<ellipse cx="62.5" cy="222" rx="6" ry="22" transform="rotate(12 62.5 222)" fill="#fff"/>
<ellipse cx="66" cy="219.5" rx="4.4" ry="11.5" transform="rotate(12 66 219.5)" fill="#000"/>
<path class="k" d="M69.0,197.0C67.8,198.3 64.0,202.2 62.0,205.0C60.0,207.8 58.2,210.8 57.0,214.0C55.8,217.2 55.0,220.3 55.0,224.0C55.0,227.7 55.8,232.3 57.0,236.0C58.2,239.7 60.2,243.5 62.0,246.0C63.8,248.5 67.0,250.2 68.0,251.0" /></g>
<g id="ir"><path d="M141.0,316.0C142.5,315.3 146.8,313.1 149.7,311.9C152.7,310.6 155.7,309.4 158.8,308.5C161.9,307.6 165.2,306.9 168.5,306.3C171.7,305.6 174.9,304.9 178.2,304.5C181.5,304.1 184.8,304.1 188.2,303.9C191.5,303.7 194.8,303.4 198.1,303.2C201.4,303.0 204.7,302.8 208.1,302.8C211.4,302.8 214.7,303.1 218.0,303.2C221.4,303.4 224.7,303.4 228.0,303.6C231.3,303.8 234.6,304.1 237.9,304.6C241.1,305.1 244.3,305.9 247.5,306.7C250.7,307.5 253.9,308.2 256.8,309.4C259.7,310.6 263.6,313.2 265.0,314.0M141.0,316.0C142.5,315.4 146.8,313.7 149.8,312.7C152.8,311.7 155.8,310.8 158.9,310.1C162.0,309.3 165.3,308.8 168.6,308.2C171.8,307.7 175.0,307.1 178.3,306.8C181.6,306.5 184.9,306.6 188.2,306.4C191.6,306.2 194.9,306.0 198.2,305.8C201.5,305.7 204.8,305.4 208.1,305.4C211.4,305.4 214.8,305.7 218.1,305.8C221.4,305.9 224.7,305.9 228.0,306.1C231.3,306.3 234.6,306.5 237.9,306.9C241.1,307.3 244.3,307.9 247.5,308.5C250.7,309.1 253.9,309.6 256.8,310.5C259.7,311.4 263.6,313.4 265.0,314.0M141.0,316.0C142.5,315.6 146.9,314.2 149.9,313.5C152.9,312.8 155.9,312.1 159.0,311.6C162.1,311.0 165.4,310.6 168.7,310.2C171.9,309.8 175.1,309.3 178.4,309.1C181.7,308.9 185.0,309.0 188.3,308.9C191.6,308.7 194.9,308.5 198.2,308.4C201.6,308.3 204.9,308.1 208.2,308.1C211.5,308.1 214.8,308.4 218.1,308.4C221.4,308.5 224.8,308.4 228.0,308.6C231.3,308.7 234.7,308.9 237.9,309.1C241.2,309.4 244.4,309.8 247.5,310.2C250.7,310.7 253.9,311.0 256.8,311.6C259.7,312.3 263.6,313.6 265.0,314.0M141.0,316.0C142.5,315.7 146.9,314.8 149.9,314.3C152.9,313.8 156.0,313.5 159.1,313.1C162.2,312.8 165.5,312.4 168.8,312.1C172.0,311.8 175.2,311.6 178.5,311.4C181.8,311.3 185.1,311.4 188.4,311.3C191.7,311.2 195.0,311.1 198.3,311.0C201.6,310.9 204.9,310.8 208.2,310.8C211.5,310.8 214.9,311.0 218.2,311.0C221.5,311.1 224.8,311.0 228.1,311.0C231.4,311.1 234.7,311.3 237.9,311.4C241.2,311.6 244.4,311.8 247.5,312.0C250.7,312.2 253.9,312.4 256.8,312.7C259.7,313.1 263.6,313.8 265.0,314.0M141.0,316.0C142.5,315.9 147.0,315.3 150.0,315.1C153.0,314.9 156.0,314.8 159.2,314.7C162.3,314.5 165.6,314.2 168.9,314.1C172.1,313.9 175.3,313.8 178.6,313.7C181.9,313.7 185.2,313.8 188.5,313.8C191.8,313.8 195.1,313.6 198.4,313.6C201.7,313.5 205.0,313.4 208.3,313.5C211.6,313.5 214.9,313.6 218.2,313.6C221.5,313.7 224.8,313.5 228.1,313.5C231.4,313.5 234.7,313.7 238.0,313.7C241.2,313.8 244.4,313.8 247.5,313.8C250.7,313.8 253.9,313.8 256.8,313.9C259.7,313.9 263.6,314.0 265.0,314.0M141.0,316.0C142.5,316.0 147.0,315.9 150.1,315.9C153.1,316.0 156.1,316.2 159.3,316.2C162.4,316.2 165.7,316.1 169.0,316.0C172.2,316.0 175.4,316.0 178.7,316.0C182.0,316.0 185.3,316.2 188.6,316.3C191.9,316.3 195.2,316.2 198.5,316.1C201.8,316.1 205.1,316.1 208.4,316.1C211.6,316.1 214.9,316.3 218.2,316.2C221.5,316.2 224.8,316.0 228.1,316.0C231.4,316.0 234.7,316.1 238.0,316.0C241.2,315.9 244.4,315.7 247.5,315.6C250.7,315.4 253.9,315.2 256.8,315.0C259.7,314.7 263.6,314.2 265.0,314.0M141.0,316.0C142.5,316.1 147.1,316.5 150.1,316.7C153.2,317.0 156.2,317.6 159.4,317.8C162.5,318.0 165.8,317.9 169.1,318.0C172.3,318.1 175.5,318.2 178.8,318.3C182.1,318.4 185.4,318.7 188.7,318.7C191.9,318.8 195.2,318.7 198.5,318.7C201.8,318.7 205.1,318.8 208.4,318.8C211.7,318.8 215.0,318.9 218.3,318.8C221.6,318.8 224.9,318.6 228.2,318.5C231.4,318.4 234.8,318.5 238.0,318.3C241.2,318.1 244.4,317.7 247.5,317.3C250.7,317.0 253.9,316.7 256.8,316.1C259.7,315.5 263.6,314.4 265.0,314.0M141.0,316.0C142.5,316.3 147.1,317.0 150.2,317.6C153.3,318.1 156.3,318.9 159.5,319.3C162.6,319.7 165.9,319.7 169.2,319.9C172.4,320.1 175.7,320.4 178.9,320.6C182.2,320.8 185.5,321.1 188.7,321.2C192.0,321.3 195.3,321.3 198.6,321.3C201.9,321.4 205.2,321.4 208.5,321.5C211.8,321.5 215.0,321.5 218.3,321.5C221.6,321.4 224.9,321.1 228.2,321.0C231.5,320.8 234.8,320.9 238.0,320.6C241.2,320.3 244.4,319.7 247.5,319.1C250.7,318.5 253.9,318.1 256.8,317.2C259.7,316.4 263.6,314.5 265.0,314.0M141.0,316.0C142.5,316.4 147.2,317.6 150.3,318.4C153.3,319.2 156.4,320.3 159.5,320.8C162.7,321.4 166.0,321.5 169.3,321.9C172.5,322.2 175.8,322.6 179.0,322.9C182.3,323.2 185.5,323.5 188.8,323.7C192.1,323.8 195.4,323.8 198.7,323.9C202.0,324.0 205.2,324.1 208.5,324.1C211.8,324.2 215.1,324.2 218.4,324.1C221.7,323.9 224.9,323.6 228.2,323.4C231.5,323.2 234.8,323.3 238.0,322.9C241.2,322.4 244.4,321.6 247.5,320.9C250.7,320.1 253.9,319.5 256.8,318.3C259.7,317.2 263.6,314.7 265.0,314.0" fill="none" stroke="#606060" stroke-width="0.75"/>
<path d="M141.0,316.0C143.3,314.7 149.3,310.2 155.0,308.0C160.7,305.8 166.5,303.8 175.0,302.5C183.5,301.2 196.0,300.2 206.0,300.0C216.0,299.8 226.8,300.3 235.0,301.5C243.2,302.7 250.0,304.9 255.0,307.0C260.0,309.1 263.3,312.8 265.0,314.0" fill="none" stroke="#333" stroke-width="1"/>
<path d="M141.0,316.0C144.2,317.1 152.7,320.8 160.0,322.5C167.3,324.2 176.0,325.2 185.0,326.0C194.0,326.8 204.8,327.2 214.0,327.0C223.2,326.8 233.0,326.2 240.0,325.0C247.0,323.8 251.8,321.8 256.0,320.0C260.2,318.2 263.5,315.0 265.0,314.0" fill="none" stroke="#333" stroke-width="1"/></g>
</g>
</defs>
<use href="#base"/>
<g transform="translate(540,0)"><use href="#frame"/><use href="#orbit"/><use href="#ir"/></g>
<path d="M636.9,90.4C634.8,92.1 628.1,96.8 624.4,100.8C620.7,104.8 617.2,110.1 614.7,114.7C612.2,119.3 611.1,122.8 609.2,128.6C607.4,134.4 605.5,142.7 603.6,149.4C601.7,156.1 600.3,162.7 598.0,168.9C595.7,175.2 592.5,180.9 589.7,186.9C586.9,192.9 583.5,199.7 581.4,205.0C579.3,210.3 577.9,214.3 577.2,218.9C576.5,223.5 576.8,228.5 577.2,232.8C577.6,237.2 578.5,240.2 579.5,245.0C580.5,249.8 581.8,255.2 583.1,261.5C584.4,267.8 586.4,276.6 587.4,283.0C588.4,289.4 589.4,295.3 589.4,300.0C589.4,304.7 588.4,307.8 587.2,311.1C586.0,314.4 584.4,316.7 582.0,320.0C579.6,323.3 576.2,327.7 573.1,331.1C570.0,334.6 566.7,337.5 563.5,340.7C560.3,343.9 556.6,347.6 553.9,350.4C551.2,353.2 549.6,354.8 547.2,357.4C544.9,360.0 541.5,363.2 539.8,366.3C538.1,369.4 537.4,372.7 536.9,375.9C536.4,379.1 536.4,382.3 536.9,385.6C537.4,388.9 538.6,392.4 539.8,395.9C541.0,399.3 542.9,403.4 544.3,406.3C545.7,409.2 547.4,411.9 548.0,413.0L575.4,410C573.9,408.4 569.1,403.5 566.5,400.4C563.9,397.3 561.4,394.6 559.8,391.5C558.2,388.4 557.4,385.1 556.9,381.9C556.4,378.7 556.4,374.8 556.9,372.2C557.4,369.6 558.2,368.5 559.8,366.3C561.4,364.1 563.9,361.4 566.5,358.9C569.1,356.4 572.6,353.7 575.4,351.5C578.2,349.3 580.2,349.3 583.5,345.9C586.8,342.5 591.9,335.8 595.4,331.0C598.9,326.2 602.2,320.9 604.3,317.0C606.4,313.1 607.3,310.2 608.0,307.4C608.7,304.6 608.8,304.1 608.7,300.0C608.6,295.9 608.6,289.4 607.4,283.0C606.2,276.6 603.4,268.7 601.7,261.5C600.0,254.3 598.4,245.6 597.4,240.0C596.4,234.4 595.9,232.4 595.8,228.0C595.7,223.6 595.6,217.6 596.7,213.3C597.8,209.0 600.1,205.9 602.2,202.2C604.3,198.5 607.4,195.3 609.2,191.1C611.1,186.9 611.7,182.3 613.3,177.2C614.9,172.1 617.0,166.4 618.9,160.6C620.8,154.8 622.5,147.8 624.4,142.5C626.2,137.2 627.9,133.5 630.0,128.6C632.1,123.7 634.5,117.9 637.0,113.3C639.5,108.7 641.9,104.8 645.3,100.8C648.6,96.8 655.1,91.0 657.1,89.0Z" fill="#d9918c" stroke="none"/>
<path d="M636.9,90.4C634.8,92.1 628.1,96.8 624.4,100.8C620.7,104.8 617.2,110.1 614.7,114.7C612.2,119.3 611.1,122.8 609.2,128.6C607.4,134.4 605.5,142.7 603.6,149.4C601.7,156.1 600.3,162.7 598.0,168.9C595.7,175.2 592.5,180.9 589.7,186.9C586.9,192.9 583.5,199.7 581.4,205.0C579.3,210.3 577.9,214.3 577.2,218.9C576.5,223.5 576.8,228.5 577.2,232.8C577.6,237.2 578.5,240.2 579.5,245.0C580.5,249.8 581.8,255.2 583.1,261.5C584.4,267.8 586.4,276.6 587.4,283.0C588.4,289.4 589.4,295.3 589.4,300.0C589.4,304.7 588.4,307.8 587.2,311.1C586.0,314.4 584.4,316.7 582.0,320.0C579.6,323.3 576.2,327.7 573.1,331.1C570.0,334.6 566.7,337.5 563.5,340.7C560.3,343.9 556.6,347.6 553.9,350.4C551.2,353.2 549.6,354.8 547.2,357.4C544.9,360.0 541.5,363.2 539.8,366.3C538.1,369.4 537.4,372.7 536.9,375.9C536.4,379.1 536.4,382.3 536.9,385.6C537.4,388.9 538.6,392.4 539.8,395.9C541.0,399.3 542.9,403.4 544.3,406.3C545.7,409.2 547.4,411.9 548.0,413.0" fill="none" stroke="#3a1d1b" stroke-width="1.3"/>
<path d="M566.5,400.4C565.4,398.9 561.4,394.6 559.8,391.5C558.2,388.4 557.4,385.1 556.9,381.9C556.4,378.7 556.4,374.8 556.9,372.2C557.4,369.6 558.2,368.5 559.8,366.3C561.4,364.1 563.9,361.4 566.5,358.9C569.1,356.4 572.6,353.7 575.4,351.5C578.2,349.3 580.2,349.3 583.5,345.9C586.8,342.5 591.9,335.8 595.4,331.0C598.9,326.2 602.2,320.9 604.3,317.0C606.4,313.1 607.3,310.2 608.0,307.4C608.7,304.6 608.8,304.1 608.7,300.0C608.6,295.9 608.6,289.4 607.4,283.0C606.2,276.6 603.4,268.7 601.7,261.5C600.0,254.3 598.4,245.6 597.4,240.0C596.4,234.4 595.9,232.4 595.8,228.0C595.7,223.6 595.6,217.6 596.7,213.3C597.8,209.0 600.1,205.9 602.2,202.2C604.3,198.5 607.4,195.3 609.2,191.1C611.1,186.9 611.7,182.3 613.3,177.2C614.9,172.1 617.0,166.4 618.9,160.6C620.8,154.8 622.5,147.8 624.4,142.5C626.2,137.2 627.9,133.5 630.0,128.6C632.1,123.7 634.5,117.9 637.0,113.3C639.5,108.7 641.9,104.8 645.3,100.8C648.6,96.8 655.1,91.0 657.1,89.0" fill="none" stroke="#3a1d1b" stroke-width="1.3"/>
<g transform="translate(0,464)"><path d="M97.5,127.0C97.9,128.0 98.5,130.9 100.0,132.8C101.5,134.7 103.7,137.3 106.6,138.6C109.5,139.9 113.4,139.9 117.2,140.5C121.0,141.1 125.9,141.8 129.6,142.4C133.3,143.0 136.1,143.6 139.2,144.3C142.3,145.0 145.4,145.8 148.0,146.5C150.6,147.2 151.7,147.2 155.0,148.4C158.3,149.6 163.7,151.7 168.0,153.6C172.3,155.5 176.7,157.7 181.0,160.1C185.3,162.5 189.7,165.1 194.0,167.9C198.3,170.7 202.7,173.7 207.0,176.9C211.3,180.1 216.2,184.1 220.0,187.3C223.8,190.6 226.7,193.3 230.0,196.4C233.3,199.5 236.2,202.0 240.0,206.0C243.8,210.0 248.5,215.5 253.0,220.5C257.5,225.5 262.5,230.8 267.0,236.0C271.5,241.2 276.0,246.8 280.0,252.0C284.0,257.2 287.8,262.3 291.0,267.0C294.2,271.7 296.7,276.2 299.0,280.0C301.3,283.8 303.3,286.8 305.0,290.0C306.7,293.2 308.2,296.5 309.0,299.0C309.8,301.5 310.5,303.2 310.0,305.0C309.5,306.8 308.0,308.4 306.0,310.0C304.0,311.6 301.5,313.1 298.0,314.5C294.5,315.9 291.3,317.5 285.0,318.5C278.7,319.5 270.5,320.0 260.0,320.5C249.5,321.0 234.5,321.3 222.0,321.5C209.5,321.7 197.5,321.8 185.0,321.5C172.5,321.2 159.5,320.7 147.0,320.0C134.5,319.3 122.4,318.3 110.0,317.5C97.6,316.7 78.7,317.9 72.5,315.0C66.3,312.1 72.8,304.5 72.7,300.0C72.6,295.5 72.5,292.2 72.0,288.0C71.5,283.8 70.8,279.7 70.0,275.0C69.2,270.3 68.0,264.8 67.0,260.0C66.0,255.2 65.2,250.0 64.0,246.0C62.8,242.0 61.0,240.0 60.0,236.0C59.0,232.0 57.7,226.7 58.0,222.0C58.3,217.3 60.2,211.8 62.0,208.0C63.8,204.2 67.3,201.2 69.0,199.0C70.7,196.8 70.9,197.3 72.2,195.0C73.5,192.7 75.4,189.1 77.0,185.4C78.6,181.7 80.4,177.0 81.8,173.0C83.2,169.0 84.3,165.3 85.6,161.5C86.9,157.7 88.3,153.5 89.4,150.0C90.5,146.5 91.3,143.7 92.3,140.5C93.3,137.3 94.3,133.2 95.2,131.0C96.1,128.8 97.1,127.7 97.5,127.0C97.9,126.3 97.1,126.0 97.5,127.0Z" fill="#d9918c"/></g>
<use href="#base" x="0" y="464"/>
<g transform="translate(533.5,459) rotate(-1.7 345 317)"><use href="#gfill"/><use href="#lidout"/><use href="#frame"/><use href="#orbit"/></g>
<path d="M668.0,786.0C669.3,785.7 673.2,784.6 675.7,783.9C678.3,783.3 680.9,782.5 683.5,781.9C686.0,781.2 688.6,780.4 691.2,780.1C693.9,779.7 696.6,779.7 699.3,779.5C702.0,779.4 704.7,779.2 707.5,779.0C710.2,778.9 712.9,778.7 715.6,778.5C718.3,778.4 721.0,778.3 723.7,778.3C726.4,778.3 729.1,778.5 731.8,778.5C734.5,778.6 737.2,778.6 739.9,778.7C742.7,778.8 745.4,778.7 748.1,778.9C750.8,779.1 753.4,779.5 756.1,779.8C758.7,780.2 761.4,780.6 764.0,781.0C766.7,781.4 770.7,782.0 772.0,782.2M668.0,786.0C669.3,785.8 673.2,785.0 675.7,784.5C678.3,784.0 680.9,783.5 683.5,783.0C686.1,782.6 688.6,782.0 691.3,781.7C693.9,781.4 696.7,781.5 699.4,781.4C702.1,781.3 704.8,781.1 707.5,781.0C710.2,780.9 712.9,780.8 715.6,780.7C718.3,780.6 721.0,780.5 723.7,780.5C726.4,780.5 729.1,780.6 731.9,780.6C734.6,780.7 737.3,780.7 740.0,780.7C742.7,780.8 745.4,780.7 748.1,780.8C750.8,781.0 753.4,781.2 756.1,781.4C758.8,781.6 761.4,781.9 764.1,782.1C766.7,782.4 770.7,782.8 772.0,782.9M668.0,786.0C669.3,785.8 673.2,785.4 675.8,785.1C678.4,784.8 680.9,784.5 683.5,784.2C686.1,783.9 688.7,783.5 691.4,783.4C694.0,783.2 696.8,783.3 699.5,783.2C702.2,783.1 704.9,783.1 707.6,783.0C710.3,783.0 713.0,782.9 715.7,782.9C718.4,782.8 721.1,782.8 723.8,782.8C726.5,782.7 729.2,782.8 731.9,782.8C734.6,782.8 737.3,782.8 740.0,782.8C742.7,782.8 745.5,782.8 748.1,782.8C750.8,782.8 753.5,782.9 756.1,783.0C758.8,783.1 761.4,783.2 764.1,783.3C766.7,783.4 770.7,783.5 772.0,783.6M668.0,786.0C669.3,785.9 673.2,785.8 675.8,785.7C678.4,785.6 681.0,785.5 683.6,785.3C686.2,785.2 688.8,785.1 691.4,785.0C694.1,785.0 696.8,785.0 699.5,785.0C702.2,785.0 704.9,785.0 707.6,785.0C710.3,785.0 713.0,785.0 715.7,785.0C718.4,785.0 721.1,785.0 723.8,785.0C726.5,784.9 729.2,784.9 731.9,784.9C734.7,784.9 737.4,784.8 740.1,784.8C742.8,784.8 745.5,784.8 748.2,784.8C750.9,784.7 753.5,784.6 756.2,784.6C758.8,784.5 761.4,784.5 764.1,784.4C766.7,784.4 770.7,784.3 772.0,784.2M668.0,786.0C669.3,786.0 673.2,786.2 675.8,786.2C678.4,786.3 681.0,786.4 683.6,786.5C686.2,786.6 688.8,786.6 691.5,786.7C694.1,786.7 696.9,786.8 699.6,786.8C702.3,786.9 705.0,787.0 707.7,787.0C710.4,787.1 713.1,787.2 715.8,787.2C718.5,787.2 721.2,787.2 723.9,787.2C726.6,787.1 729.3,787.1 732.0,787.0C734.7,787.0 737.4,786.9 740.1,786.9C742.8,786.8 745.5,786.8 748.2,786.7C750.9,786.6 753.5,786.4 756.2,786.2C758.8,786.0 761.5,785.8 764.1,785.6C766.7,785.3 770.7,785.0 772.0,784.9M668.0,786.0C669.3,786.1 673.2,786.5 675.8,786.8C678.4,787.1 681.0,787.4 683.7,787.6C686.3,787.9 688.9,788.2 691.5,788.3C694.2,788.5 696.9,788.6 699.6,788.7C702.3,788.8 705.0,788.9 707.7,789.0C710.4,789.1 713.1,789.3 715.8,789.3C718.5,789.4 721.2,789.4 723.9,789.4C726.6,789.3 729.3,789.2 732.0,789.1C734.7,789.1 737.4,789.0 740.1,788.9C742.9,788.8 745.6,788.9 748.3,788.7C750.9,788.5 753.6,788.1 756.2,787.8C758.8,787.4 761.5,787.0 764.1,786.7C766.7,786.3 770.7,785.8 772.0,785.6M668.0,786.0C669.3,786.2 673.2,786.9 675.9,787.4C678.5,787.9 681.1,788.4 683.7,788.8C686.3,789.2 688.9,789.7 691.6,790.0C694.3,790.3 697.0,790.3 699.7,790.5C702.4,790.7 705.1,790.8 707.8,791.0C710.5,791.2 713.2,791.4 715.9,791.5C718.6,791.6 721.3,791.6 724.0,791.6C726.7,791.6 729.4,791.4 732.1,791.3C734.8,791.2 737.5,791.1 740.2,790.9C742.9,790.8 745.6,790.9 748.3,790.6C751.0,790.4 753.6,789.8 756.2,789.3C758.9,788.9 761.5,788.3 764.1,787.8C766.7,787.3 770.7,786.6 772.0,786.3" fill="none" stroke="#666" stroke-width="0.7"/>
<path d="M668.0,786.0C671.7,784.8 681.3,780.2 690.0,778.5C698.7,776.8 710.0,776.2 720.0,776.0C730.0,775.8 741.3,776.1 750.0,777.0C758.7,777.9 768.3,780.8 772.0,781.5" class="kt"/><path d="M668.0,786.0C671.7,786.9 681.3,790.2 690.0,791.5C698.7,792.8 710.0,793.8 720.0,794.0C730.0,794.2 741.3,793.7 750.0,792.5C758.7,791.3 768.3,787.9 772.0,787.0" class="kt"/>
<path d="M672.2,773.9C675.0,770.9 685.7,764.6 691.7,760.0C697.7,755.4 703.2,750.3 708.3,746.1C713.4,741.9 718.0,737.5 722.2,735.0C726.4,732.5 729.1,731.5 733.3,730.8C737.5,730.1 742.6,729.9 747.2,730.8C751.8,731.7 757.4,733.8 761.1,736.4C764.8,739.0 767.5,742.6 769.4,746.1C771.2,749.6 772.2,753.5 772.2,757.2C772.2,760.9 771.2,765.5 769.4,768.3C767.5,771.1 767.1,772.5 761.1,773.9C755.1,775.3 743.5,776.0 733.3,776.7C723.1,777.4 709.7,777.8 700.0,778.0C690.3,778.2 679.6,778.7 675.0,778.0C670.4,777.3 669.4,776.9 672.2,773.9Z" fill="#d9918c" stroke="#3a1d1b" stroke-width="1.3"/>
<g transform="translate(0,811) rotate(1 200 330)"><use href="#gfill"/><use href="#lidout"/><use href="#frame"/></g>
<g transform="translate(0,806.5) rotate(1 200 330)"><use href="#orbit"/></g>
<path d="M152.0,1113.0C152.9,1112.0 155.6,1109.1 157.3,1107.1C159.1,1105.2 160.7,1103.0 162.7,1101.3C164.6,1099.6 166.7,1098.0 169.1,1096.9C171.5,1095.8 174.4,1095.4 177.0,1094.6C179.6,1093.8 182.2,1092.9 184.9,1092.3C187.6,1091.8 190.3,1091.6 193.1,1091.3C195.8,1091.0 198.5,1090.7 201.2,1090.4C204.0,1090.1 206.7,1089.6 209.4,1089.5C212.1,1089.4 214.9,1089.6 217.6,1089.7C220.3,1089.8 223.1,1089.8 225.8,1090.1C228.5,1090.4 231.1,1090.9 233.7,1091.6C236.3,1092.3 238.8,1093.4 241.4,1094.3C243.9,1095.2 247.7,1096.6 249.0,1097.0M152.0,1113.0C152.9,1112.1 155.7,1109.6 157.6,1107.9C159.5,1106.2 161.2,1104.2 163.2,1102.7C165.3,1101.2 167.4,1099.8 169.8,1098.8C172.2,1097.8 175.0,1097.3 177.6,1096.6C180.2,1095.9 182.8,1094.9 185.5,1094.4C188.1,1093.9 190.9,1093.7 193.5,1093.3C196.2,1093.0 198.9,1092.7 201.6,1092.3C204.3,1092.0 207.0,1091.5 209.7,1091.4C212.4,1091.2 215.1,1091.4 217.8,1091.4C220.5,1091.4 223.3,1091.3 225.9,1091.6C228.6,1091.8 231.2,1092.1 233.8,1092.7C236.4,1093.2 238.9,1094.1 241.4,1094.8C243.9,1095.6 247.7,1096.6 249.0,1097.0M152.0,1113.0C153.0,1112.3 155.9,1110.1 157.9,1108.6C159.9,1107.1 161.7,1105.5 163.8,1104.2C165.9,1102.9 168.1,1101.6 170.5,1100.7C172.9,1099.7 175.7,1099.3 178.3,1098.6C180.9,1097.9 183.4,1097.0 186.1,1096.5C188.7,1096.0 191.4,1095.7 194.0,1095.4C196.7,1095.0 199.4,1094.7 202.0,1094.3C204.7,1094.0 207.4,1093.5 210.0,1093.3C212.7,1093.1 215.4,1093.1 218.0,1093.1C220.7,1093.0 223.4,1092.9 226.0,1093.0C228.7,1093.1 231.3,1093.3 233.8,1093.7C236.4,1094.1 238.9,1094.8 241.4,1095.4C243.9,1095.9 247.7,1096.7 249.0,1097.0M152.0,1113.0C153.0,1112.4 156.1,1110.6 158.2,1109.3C160.2,1108.1 162.2,1106.8 164.4,1105.7C166.5,1104.5 168.8,1103.4 171.2,1102.6C173.6,1101.7 176.3,1101.3 178.9,1100.6C181.5,1099.9 184.0,1099.1 186.6,1098.6C189.2,1098.1 191.9,1097.8 194.5,1097.4C197.2,1097.0 199.8,1096.7 202.4,1096.3C205.1,1095.9 207.7,1095.4 210.3,1095.2C213.0,1094.9 215.6,1094.9 218.2,1094.8C220.9,1094.6 223.5,1094.4 226.1,1094.4C228.8,1094.5 231.3,1094.6 233.9,1094.8C236.4,1095.0 238.9,1095.5 241.4,1095.9C244.0,1096.3 247.7,1096.8 249.0,1097.0M152.0,1113.0C153.1,1112.5 156.3,1111.0 158.5,1110.1C160.6,1109.1 162.7,1108.1 164.9,1107.1C167.2,1106.2 169.4,1105.2 171.9,1104.5C174.3,1103.7 177.0,1103.2 179.5,1102.6C182.1,1102.0 184.6,1101.2 187.2,1100.7C189.8,1100.2 192.4,1099.9 195.0,1099.4C197.6,1099.0 200.2,1098.6 202.8,1098.3C205.4,1097.9 208.0,1097.4 210.6,1097.1C213.2,1096.8 215.8,1096.6 218.4,1096.4C221.1,1096.2 223.7,1096.0 226.3,1095.9C228.8,1095.8 231.4,1095.8 233.9,1095.9C236.5,1096.0 239.0,1096.2 241.5,1096.4C244.0,1096.6 247.7,1096.9 249.0,1097.0M152.0,1113.0C153.1,1112.6 156.5,1111.5 158.7,1110.8C161.0,1110.1 163.2,1109.3 165.5,1108.6C167.8,1107.9 170.1,1107.0 172.6,1106.4C175.0,1105.7 177.6,1105.2 180.2,1104.6C182.7,1104.0 185.2,1103.3 187.8,1102.8C190.4,1102.3 192.9,1101.9 195.5,1101.5C198.1,1101.1 200.6,1100.6 203.2,1100.2C205.8,1099.8 208.4,1099.3 210.9,1098.9C213.5,1098.6 216.1,1098.4 218.7,1098.1C221.2,1097.8 223.8,1097.5 226.4,1097.3C228.9,1097.1 231.5,1097.0 234.0,1096.9C236.5,1096.9 239.0,1097.0 241.5,1097.0C244.0,1097.0 247.7,1097.0 249.0,1097.0M152.0,1113.0C153.2,1112.8 156.7,1112.0 159.0,1111.5C161.4,1111.0 163.7,1110.6 166.0,1110.1C168.4,1109.5 170.8,1108.9 173.3,1108.3C175.7,1107.7 178.3,1107.1 180.8,1106.6C183.3,1106.0 185.8,1105.4 188.4,1104.9C190.9,1104.4 193.5,1104.0 196.0,1103.5C198.5,1103.1 201.1,1102.6 203.6,1102.2C206.2,1101.7 208.7,1101.2 211.2,1100.8C213.8,1100.4 216.3,1100.1 218.9,1099.8C221.4,1099.4 224.0,1099.1 226.5,1098.8C229.0,1098.5 231.5,1098.2 234.0,1098.0C236.6,1097.8 239.0,1097.7 241.5,1097.5C244.0,1097.3 247.8,1097.1 249.0,1097.0M152.0,1113.0C153.2,1112.9 156.9,1112.5 159.3,1112.3C161.7,1112.0 164.2,1111.9 166.6,1111.5C169.1,1111.2 171.5,1110.7 174.0,1110.2C176.4,1109.7 179.0,1109.1 181.5,1108.6C184.0,1108.1 186.5,1107.5 189.0,1107.0C191.5,1106.5 194.0,1106.0 196.5,1105.6C199.0,1105.1 201.5,1104.6 204.0,1104.2C206.5,1103.7 209.0,1103.2 211.5,1102.7C214.1,1102.3 216.6,1101.9 219.1,1101.5C221.6,1101.0 224.1,1100.6 226.6,1100.2C229.1,1099.8 231.6,1099.4 234.1,1099.1C236.6,1098.7 239.1,1098.4 241.6,1098.0C244.0,1097.7 247.8,1097.2 249.0,1097.0" fill="none" stroke="#555" stroke-width="0.7"/>
<path d="M152.0,1113.0C154.2,1110.2 159.5,1099.8 165.0,1096.0C170.5,1092.2 177.5,1091.4 185.0,1090.0C192.5,1088.6 202.5,1087.7 210.0,1087.5C217.5,1087.3 223.5,1087.4 230.0,1089.0C236.5,1090.6 245.8,1095.7 249.0,1097.0" class="kt"/><path d="M152.0,1113.0C155.0,1113.0 163.7,1113.7 170.0,1113.0C176.3,1112.3 183.3,1110.3 190.0,1109.0C196.7,1107.7 203.3,1106.3 210.0,1105.0C216.7,1103.7 223.5,1102.3 230.0,1101.0C236.5,1099.7 245.8,1097.7 249.0,1097.0" class="kt"/>
<path d="M86.4,1125.8C87.8,1124.6 105.2,1125.1 115.6,1124.4C126.0,1123.7 138.7,1123.1 148.9,1121.7C159.1,1120.3 168.4,1117.7 176.7,1116.1C185.0,1114.5 191.5,1112.8 198.9,1111.9C206.3,1111.0 213.7,1110.6 221.1,1110.6C228.5,1110.6 236.8,1110.8 243.3,1111.9C249.8,1113.1 254.4,1115.2 260.0,1117.5C265.6,1119.8 271.1,1122.8 276.7,1125.8C282.2,1128.8 289.1,1133.3 293.3,1135.6C297.5,1137.9 304.5,1138.8 301.7,1139.7C298.9,1140.6 286.9,1140.6 276.7,1141.1C266.5,1141.6 253.6,1142.3 240.6,1142.5C227.6,1142.7 211.4,1142.7 198.9,1142.5C186.4,1142.3 176.7,1142.0 165.6,1141.1C154.5,1140.2 141.9,1138.5 132.2,1136.9C122.5,1135.3 114.8,1133.2 107.2,1131.4C99.6,1129.6 85.0,1127.0 86.4,1125.8Z" fill="#d9918c" stroke="#3a1d1b" stroke-width="1.3"/>
<path d="M72.0,1122.0C76.7,1121.9 89.5,1122.2 100.0,1121.5C110.5,1120.8 125.0,1119.4 135.0,1118.0C145.0,1116.6 151.7,1114.6 160.0,1113.0C168.3,1111.4 177.5,1109.6 185.0,1108.5C192.5,1107.4 198.8,1106.9 205.0,1106.5C211.2,1106.1 216.3,1105.8 222.5,1106.0C228.7,1106.2 235.8,1106.5 242.0,1107.5C248.2,1108.5 253.7,1110.1 260.0,1112.0C266.3,1113.9 273.8,1116.7 280.0,1119.0C286.2,1121.3 293.2,1124.0 297.5,1126.0C301.8,1128.0 304.6,1130.2 306.0,1131.0" class="k"/>
<use href="#base" x="534" y="811"/>
<path d="M865.3,1137.8C866.7,1136.3 873.6,1136.4 877.8,1135.7C882.0,1135.0 887.1,1134.6 890.3,1133.6C893.5,1132.5 894.7,1130.7 897.2,1129.4C899.8,1128.1 902.6,1126.8 905.6,1126.0C908.6,1125.2 912.1,1124.7 915.3,1124.6C918.5,1124.5 921.5,1124.5 925.0,1125.3C928.5,1126.1 931.9,1127.6 936.1,1129.4C940.3,1131.2 945.4,1134.1 950.0,1136.4C954.6,1138.7 959.3,1141.0 963.9,1143.3C968.5,1145.6 974.3,1148.0 977.8,1150.3C981.3,1152.6 983.4,1154.7 984.7,1157.2C986.0,1159.8 986.1,1162.8 985.4,1165.6C984.7,1168.4 982.8,1171.1 980.6,1173.9C978.4,1176.7 975.0,1180.6 972.2,1182.2C969.4,1183.8 967.6,1184.1 963.9,1183.6C960.2,1183.1 954.2,1181.0 950.0,1179.4C945.8,1177.8 942.6,1176.0 938.9,1173.9C935.2,1171.8 931.5,1168.4 927.8,1166.9C924.1,1165.4 920.0,1164.9 916.7,1164.9C913.5,1164.9 911.5,1166.8 908.3,1166.9C905.0,1167.0 901.4,1166.5 897.2,1165.6C893.0,1164.7 886.8,1163.0 883.3,1161.4C879.8,1159.8 878.2,1157.9 876.4,1155.8C874.5,1153.7 873.4,1150.8 872.2,1148.9C871.0,1147.1 870.5,1146.6 869.4,1144.7C868.2,1142.8 863.9,1139.3 865.3,1137.8Z" fill="#d9918c" stroke="#3a1d1b" stroke-width="1.3"/>
<g class="kt"><ellipse cx="900.7" cy="1152.4" rx="14" ry="10.4" transform="rotate(22 900.7 1152.4)" style="fill:#fff"/><ellipse cx="901" cy="1152" rx="9.5" ry="6.2" transform="rotate(22 901 1152)"/></g>
<text class="lbl" x="195.81" y="46.10" font-size="26" textLength="84.22" lengthAdjust="spacingAndGlyphs">Normal</text>
<text class="lbl" x="676.59" y="46.50" font-size="26" textLength="206.19" lengthAdjust="spacingAndGlyphs">Preseptal Cellulitis</text>
<text class="lbl" x="314.32" y="513.80" font-size="26" textLength="429.29" lengthAdjust="spacingAndGlyphs">Orbital Cellulitis and Its Complications</text>
<text class="lbl" x="362.67" y="119.40" font-size="24.5" textLength="128.24" lengthAdjust="spacingAndGlyphs">Periosteum</text>
<text class="lbl" x="915.52" y="203.80" font-size="24.5" textLength="104.68" lengthAdjust="spacingAndGlyphs">Preseptal</text>
<text class="lbl" x="915.85" y="233.30" font-size="24.5" textLength="92.23" lengthAdjust="spacingAndGlyphs">cellulitis</text>
<text class="lbl" x="485.17" y="258.70" font-size="24.5" textLength="78.05" lengthAdjust="spacingAndGlyphs">Orbital</text>
<text class="lbl" x="485.72" y="281.90" font-size="24.5" textLength="85.63" lengthAdjust="spacingAndGlyphs">septum</text>
<text class="lbl" x="354.67" y="642.20" font-size="24.5" textLength="78.65" lengthAdjust="spacingAndGlyphs">Diffuse</text>
<text class="lbl" x="355.06" y="670.00" font-size="24.5" textLength="91.00" lengthAdjust="spacingAndGlyphs">cellulitis</text>
<text class="lbl" x="932.57" y="689.10" font-size="24.5" textLength="78.05" lengthAdjust="spacingAndGlyphs">Orbital</text>
<text class="lbl" x="932.96" y="718.30" font-size="24.5" textLength="86.24" lengthAdjust="spacingAndGlyphs">abscess</text>
<text class="lbl" x="360.44" y="980.00" font-size="24.5" textLength="153.69" lengthAdjust="spacingAndGlyphs">Subperiosteal</text>
<text class="lbl" x="394.88" y="1009.20" font-size="24.5" textLength="84.30" lengthAdjust="spacingAndGlyphs">abscess</text>
<text class="lbl" x="926.55" y="1005.40" font-size="24.5" textLength="120.64" lengthAdjust="spacingAndGlyphs">Cavernous</text>
<text class="lbl" x="927.06" y="1032.00" font-size="24.5" textLength="57.33" lengthAdjust="spacingAndGlyphs">sinus</text>
<text class="lbl" x="927.54" y="1061.70" font-size="24.5" textLength="127.92" lengthAdjust="spacingAndGlyphs">thrombosis</text>
<path class="ptr" d="M357,113L152.5,146.8M357,113L95.5,314.5M604.3,176.1L910.4,194.9M567.3,262.2L601.7,262.2M348.3,635.6L221.9,679.7M752.8,748.9L927.8,682.2M355.8,985.8L232.2,1125.8M929.3,1063.9L918,1139.2"/>
</svg>
</body></html>
